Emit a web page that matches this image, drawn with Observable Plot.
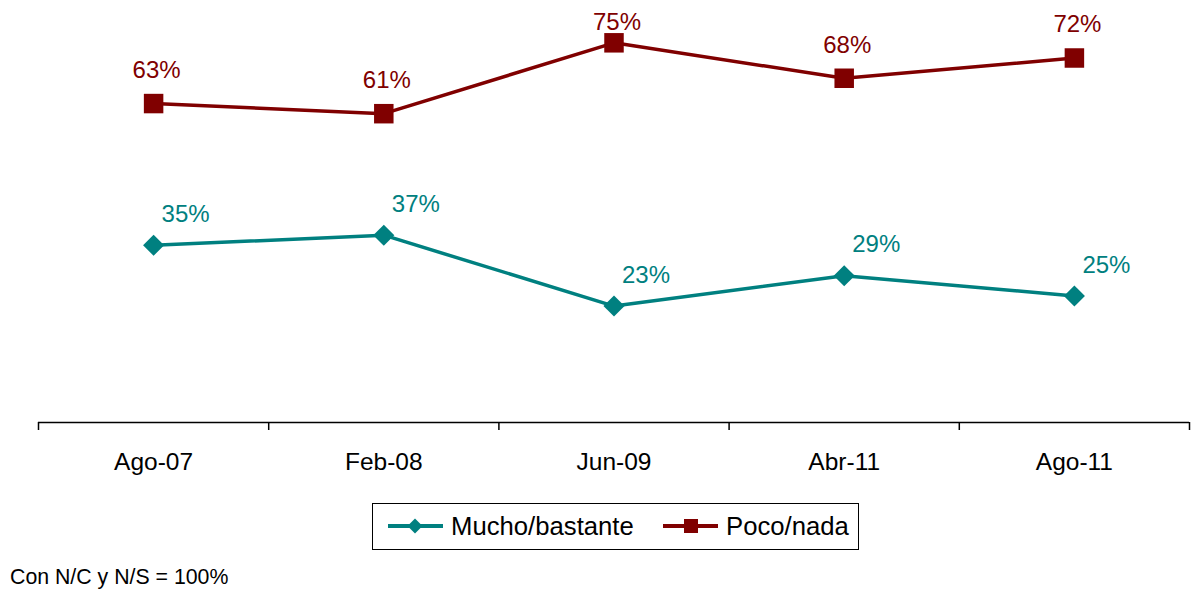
<!DOCTYPE html>
<html><head><meta charset="utf-8">
<script src="https://cdn.jsdelivr.net/npm/d3@7"></script>
<script src="https://cdn.jsdelivr.net/npm/@observablehq/plot@0.6"></script>
<style>
body{margin:0;background:#fff;font-family:"Liberation Sans",Arial,sans-serif;}
#wrap{position:relative;width:1192px;height:590px;overflow:hidden;}
#chart{position:absolute;left:0;top:0;}
#legend{position:absolute;left:372px;top:503px;width:487px;height:47px;box-sizing:border-box;border:1.5px solid #000;}
.item{position:absolute;top:0;height:44px;display:flex;align-items:center;font-size:25.7px;color:#000;}
.item svg{margin-right:8px;}
#caption{position:absolute;left:10px;top:567px;font-size:21.3px;line-height:1;color:#000;}
</style></head>
<body><div id="wrap"><div id="chart"></div><div id="legend"></div><div id="caption"></div></div>
<script>
const periods = ["Ago-07","Feb-08","Jun-09","Abr-11","Ago-11"];
const mucho = [35,37,23,29,25];
const poco = [63,61,75,68,72];
const seriesNames = ["Mucho/bastante","Poco/nada"];
const seriesColors = ["#008080","#800000"];
const captionText = "Con N/C y N/S = 100%";

const muchoData = periods.map((p,i)=>({period:p,i,series:seriesNames[0],value:mucho[i]}));
const pocoData = periods.map((p,i)=>({period:p,i,series:seriesNames[1],value:poco[i]}));
const data = muchoData.concat(pocoData);
const yMax = 80;

const chart = Plot.plot({
  width:1192, height:480,
  marginLeft:38, marginRight:3, marginTop:17, marginBottom:58,
  style:{fontFamily:'"Liberation Sans",Arial,sans-serif', fontSize:"24px", color:"#000", background:"#fff"},
  x:{domain:[-0.5, periods.length-0.5], axis:null},
  y:{domain:[0,yMax], axis:null},
  color:{domain:seriesNames, range:seriesColors},
  marks:[
    Plot.ruleY([0],{stroke:"#000",strokeWidth:1.5}),
    Plot.axisX({ticks:d3.range(-0.5, periods.length, 1), tickSize:8, tickFormat:()=>"", strokeWidth:1.5, label:null}),
    Plot.axisX({ticks:d3.range(periods.length), tickSize:0, tickPadding:30, tickFormat:i=>periods[i], fontSize:24.5, fill:"#000", label:null}),
    Plot.line(data,{x:"i",y:"value",z:"series",stroke:"series",strokeWidth:3.5}),
    Plot.dot(muchoData,{x:"i",y:"value",fill:"series",symbol:()=>"diamond2",r:9.5}),
    Plot.dot(pocoData,{x:"i",y:"value",fill:"series",symbol:()=>"square",r:11}),
    Plot.text(muchoData,{x:"i",y:"value",text:d=>d.value+"%",dx:32,dy:-31,fill:seriesColors[0],fontSize:24}),
    Plot.text(pocoData,{x:"i",y:d=>Math.min(d.value+6.6, yMax-1),text:d=>d.value+"%",dx:3,fill:seriesColors[1],fontSize:24})
  ]
});
document.getElementById("chart").appendChild(chart);

const legend = document.getElementById("legend");
const lefts = [15, 290];
seriesNames.forEach((name,k)=>{
  const div = document.createElement("div");
  div.className = "item";
  div.style.left = lefts[k]+"px";
  const shape = k===0
    ? `<polygon points="27,2.5 34.5,10 27,17.5 19.5,10" fill="${seriesColors[k]}"/>`
    : `<rect x="21" y="3" width="14" height="14" fill="${seriesColors[k]}"/>`;
  div.innerHTML = `<svg width="55" height="20"><line x1="0" y1="10" x2="55" y2="10" stroke="${seriesColors[k]}" stroke-width="4"/>${shape}</svg><span>${name}</span>`;
  legend.appendChild(div);
});
document.getElementById("caption").textContent = captionText;
</script></body></html>
